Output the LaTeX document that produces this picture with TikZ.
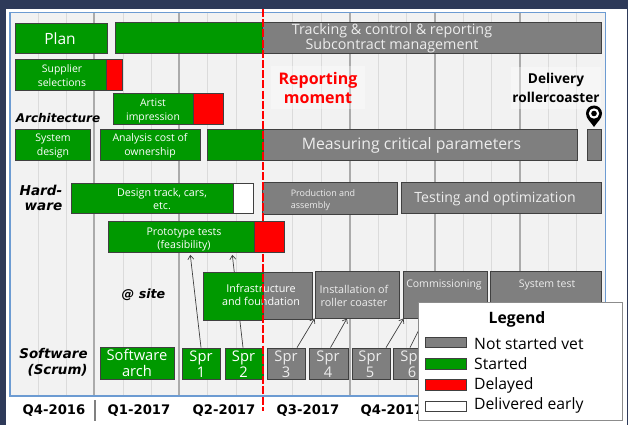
\documentclass[tikz,border=0pt]{standalone}
\usepackage{fontspec}
\setmainfont{Open Sans}
\newfontfamily\vfont{DejaVu Sans}
\usetikzlibrary{arrows.meta}
\pgfdeclarelayer{bg}\pgfdeclarelayer{back}
\pgfsetlayers{bg,back,main}
\definecolor{navy}{HTML}{2E3A59}
\definecolor{panel}{HTML}{F2F2F2}
\definecolor{pborder}{HTML}{6C9BD2}
\definecolor{ggreen}{HTML}{009900}
\definecolor{ggray}{HTML}{7F7F7F}
\definecolor{edge}{HTML}{404040}
\definecolor{softw}{HTML}{EDEDED}
\tikzset{
  barbox/.style={draw=edge,line width=.8pt,inner sep=0pt},
  greenb/.style={fill=ggreen},
  greyb/.style={fill=ggray},
  redb/.style={fill=red},
  whiteb/.style={fill=white},
  lbl/.style 2 args={inner sep=0pt,align=center,text=white,font=\fontsize{#1}{#2}\selectfont},
  softlbl/.style 2 args={lbl={#1}{#2},text=softw},
  side/.style 2 args={inner sep=0pt,align=right,text=black,font=\vfont\bfseries\itshape\fontsize{#1}{#2}\selectfont},
  quarter/.style={inner sep=0pt,text=black,font=\vfont\bfseries\fontsize{13.2}{15}\selectfont},
  thinline/.style={draw=black!14,line width=1pt},
  thickline/.style={draw=black!33,line width=2pt},
  link/.style={draw=edge,line width=.7pt,-{Straight Barb[length=4pt,width=6pt]}},
  note/.style={inner sep=0pt,align=center,fill=white,fill opacity=.35,text opacity=1,minimum height=42pt},
  swatch/.style={draw=edge,line width=.7pt,minimum width=41pt,minimum height=10.5pt,inner sep=0pt},
  legtext/.style={inner sep=0pt,anchor=west,text=black,font=\fontsize{15.7}{18}\selectfont},
}
\newcommand{\boxat}[6]{%
  \node[barbox,#6,minimum width={#3-#1},minimum height={#4-#2}] (#5) at ({(#1+#3)/2},{(#2+#4)/2}) {};}
\begin{document}
\begin{tikzpicture}[x=1pt,y=-1pt]
\useasboundingbox (0,0) rectangle (628,425);
\begin{pgfonlayer}{bg}
\fill[navy] (0,0) rectangle (628,425);
\fill[white] (6,9) rectangle (627,425);
\fill[panel] (10,12.5) rectangle (605.5,396);
\foreach \x in {38,66,123,151,207,236,292,321,378,406,463,491,548,576}
  \draw[thinline] (\x,13) -- (\x,395);
\foreach \x in {94,179,350,435,520}
  \draw[thickline] (\x,13) -- (\x,395);
\draw[pborder,line width=1.4pt] (10,12.5) rectangle (605.5,396);
\end{pgfonlayer}

% bars
\boxat{15}{23}{107.5}{53}{plan}{greenb}
\node[lbl={15.5}{18}] (plant) at (60,39) {Plan};
\boxat{115}{22}{262}{53}{mgmtg}{greenb}
\boxat{262}{22}{601}{53}{mgmt}{greyb}
\node[softlbl={14.3}{14.8}] (mgmtt) at (392,38) {Tracking \& control \& reporting\\Subcontract management};

\boxat{15}{59}{106}{90}{supp}{greenb}
\boxat{106}{59}{122}{90}{suppr}{redb}
\node[lbl={10.4}{14}] (suppt) at (62,76) {Supplier\\selections};

\boxat{113}{93}{193}{124}{art}{greenb}
\boxat{193}{93}{223}{124}{artr}{redb}
\node[lbl={10.4}{14}] (artt) at (153,110.5) {Artist\\impression};

\boxat{15}{129}{90}{160}{sys}{greenb}
\node[lbl={10.5}{14}] (syst) at (53,145.5) {System\\design};
\boxat{100}{129}{200}{160}{ana}{greenb}
\node[lbl={10.5}{14}] (anat) at (150,145.5) {Analysis cost of\\ownership};
\boxat{207}{129}{263}{160}{measg}{greenb}
\boxat{263}{129}{577}{160}{meas}{greyb}
\node[softlbl={15.8}{18}] (meast) at (411.5,145.5) {Measuring critical parameters};
\boxat{587}{129}{601}{160}{deliv}{greyb}

\boxat{71}{183}{233}{213.5}{des}{greenb}
\boxat{233}{183}{253}{213.5}{desw}{whiteb}
\node[lbl={10.7}{13.5}] (dest) at (162,199) {Design track, cars,\\etc.};
\boxat{262}{182}{397}{214}{prod}{greyb}
\node[softlbl={9}{12.5},align=left] (prodt) at (323,200) {Production and\\assembly};
\boxat{401}{182}{601}{213.5}{test}{greyb}
\node[softlbl={14.1}{16}] (testt) at (495,198.5) {Testing and optimization};

\boxat{108}{221}{254}{252}{proto}{greenb}
\boxat{254}{221}{284}{252}{protor}{redb}
\node[lbl={10.6}{13.7}] (protot) at (184,239.5) {Prototype tests\\(feasibility)};

\boxat{203}{272}{263}{320}{infg}{greenb}
\boxat{263}{272}{312}{319}{inf}{greyb}
\node[lbl={10.8}{13}] (inft) at (261,295) {Infrastructure\\and foundation};
\boxat{315}{271}{399}{318}{inst}{greyb}
\node[softlbl={10.8}{13.5}] (instt) at (354,296) {Installation of\\roller coaster};
\boxat{403}{271}{487}{318}{comm}{greyb}
\node[softlbl={10.5}{13}] (commt) at (444,285) {Commissioning};
\boxat{490}{271}{601}{318}{syst2}{greyb}
\node[softlbl={10.5}{13}] (syst2t) at (547,285) {System test};

% software row
\boxat{100}{347}{174}{379}{arch}{greenb}
\node[lbl={14.7}{16}] (archt) at (137,363) {Software\\arch};
\boxat{182}{348}{220}{379}{s1}{greenb}
\node[lbl={14.7}{16}] (s1t) at (201,364) {Spr\\1};
\boxat{225}{348}{263}{379}{s2}{greenb}
\node[lbl={14.7}{16}] (s2t) at (243.5,364) {Spr\\2};
\boxat{267}{348}{305}{379}{s3}{greyb}
\node[softlbl={14.7}{16}] (s3t) at (286,364) {Spr\\3};
\boxat{309}{348}{348}{379}{s4}{greyb}
\node[softlbl={14.7}{16}] (s4t) at (328,364) {Spr\\4};
\boxat{352}{348}{390}{379}{s5}{greyb}
\node[softlbl={14.7}{16}] (s5t) at (370,364) {Spr\\5};
\boxat{393}{348}{431}{379}{s6}{greyb}
\node[softlbl={14.7}{16}] (s6t) at (412,364) {Spr\\6};

% arrows
\begin{pgfonlayer}{back}
\draw[link,shorten >=2.5pt] (s1.north) -- ([xshift=9pt]proto.south);
\draw[link,shorten >=2.5pt] ([xshift=-1pt]s2.north) -- ([xshift=51pt]proto.south);
\end{pgfonlayer}
\draw[link] ([xshift=11pt]s3.north) -- (inst.south west);
\draw[link] ([xshift=2pt]s4.north) -- ([xshift=-10pt]inst.south);
\draw[link] ([xshift=15pt]s5.north) -- ([xshift=1pt]comm.south west);
\draw[link] ([xshift=-2pt]s6.north) -- ([xshift=22pt]comm.south west);

% side labels
\node[side={12}{15}] (lar) at (58,118) {Architecture};
\node[side={13.6}{15}] (lhw) at (41,198) {Hard-\\ware};
\node[side={12.7}{15}] (lsite) at (143.5,295) {@ site};
\node[side={13.4}{16}] (lsw) at (53.5,362) {Software\\(Scrum)};

% notes
\node[note,text=red,font=\bfseries\fontsize{16}{19}\selectfont,minimum width=94pt] (rep) at (318,87.5) {Reporting\\moment};
\node[note,text=black,font=\bfseries\fontsize{13.6}{19}\selectfont,minimum width=90pt] (del) at (556,88) {Delivery\\rollercoaster};

% pin
\fill[black] (594,127) .. controls (591,122) and (586,119) .. (586,113.5)
  .. controls (586,109) and (589.6,105.5) .. (594,105.5)
  .. controls (598.4,105.5) and (602,109) .. (602,113.5)
  .. controls (602,119) and (597,122) .. (594,127);
\fill[white] (594,113.5) circle[radius=5.2];
\fill[black] (594,113.5) circle[radius=2.8];

% reporting line
\coordinate (rtop) at (263,9);
\coordinate (rbot) at (263,411);
\draw[red,line width=2.6pt,dash pattern=on 8pt off 2.2pt] (rtop) -- (rbot);

% quarters
\node[quarter] (q1) at (54,410.5) {Q4-2016};
\node[quarter] (q2) at (139,410.5) {Q1-2017};
\node[quarter] (q3) at (224,410.5) {Q2-2017};
\node[quarter] (q4) at (308,410.5) {Q3-2017};
\node[quarter] (q5) at (392,410.5) {Q4-2017};
\coordinate (sepa) at (95,400);
\coordinate (sepb) at (95,421);
\draw[black!50,line width=1.2pt] (sepa) -- (sepb);

% legend
\node[draw=black!45,fill=white,line width=.8pt,minimum width=204pt,minimum height=118pt,inner sep=0pt] (legend) at (520,361) {};
\node[inner sep=0pt,text=black,font=\bfseries\fontsize{15.7}{18}\selectfont] (legt) at (517,319.5) {Legend};
\node[swatch,fill=ggray] (k1) at (445.5,342.5) {};
\node[swatch,fill=ggreen] (k2) at (445.5,364) {};
\node[swatch,fill=red] (k3) at (445.5,385) {};
\node[swatch,fill=white] (k4) at (445.5,406.5) {};
\node[legtext] (t1) at (474,343.5) {Not started vet};
\node[legtext] (t2) at (474,364) {Started};
\node[legtext] (t3) at (474,385) {Delayed};
\node[legtext] (t4) at (474,405.5) {Delivered early};
\end{tikzpicture}
\end{document}
